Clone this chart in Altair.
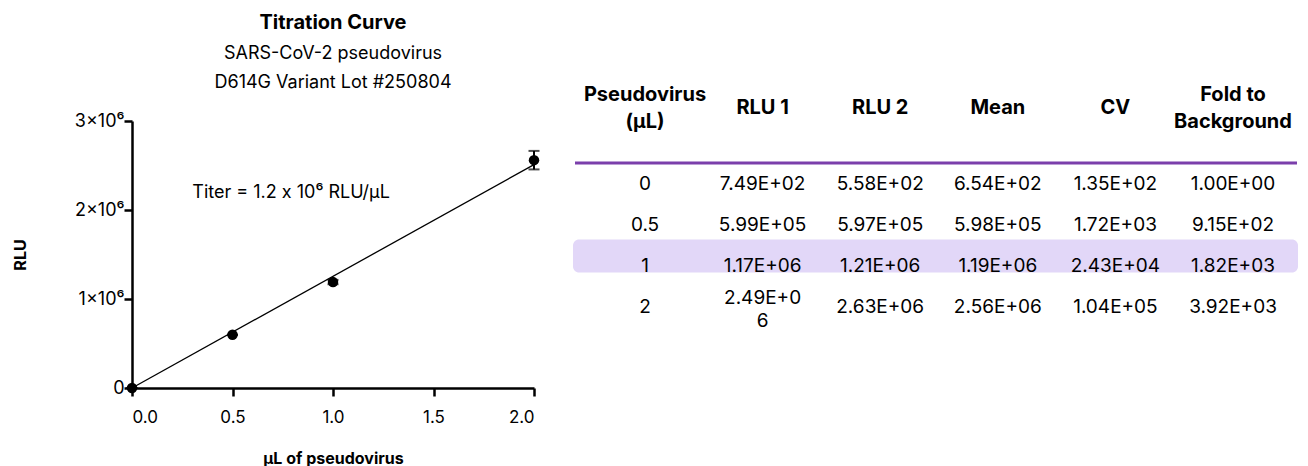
import altair as alt
import pandas as pd

FONT = "Inter"

# ---------------- data ----------------
dose_labels = ["0", "0.5", "1", "2"]
dose = [0, 0.5, 1, 2]
rlu1 = [7.49e2, 5.99e5, 1.17e6, 2.49e6]
rlu2 = [5.58e2, 5.97e5, 1.21e6, 2.63e6]
mean = [6.54e2, 5.98e5, 1.19e6, 2.56e6]
cv = [1.35e2, 1.72e3, 2.43e4, 1.04e5]
fold = [1.00e0, 9.15e2, 1.82e3, 3.92e3]
highlight_rows = ["1"]

fit_x = [0, 2]
fit_y = [0, 2.51e6]

titer_text = "Titer = 1.2 \u200bx\u200b 10\u2076 RLU/\u00b5L"
titer_x = [0.3]
titer_y = [2.19e6]

col_keys = ["dose", "rlu1", "rlu2", "mean", "cv", "fold"]
col_headers = ["Pseudovirus\n(\u00b5L)", "RLU 1", "RLU 2", "Mean", "CV", "Fold to\nBackground"]
wrap_cells = [("rlu1", "2")]

x_ticks = [0, 0.5, 1, 1.5, 2]
y_ticks = [0, 1e6, 2e6, 3e6]

# ---------------- tables ----------------
pts = pd.DataFrame({"dose": dose, "mean": mean})
err = pd.DataFrame({"dose": dose, "lo": [m - s for m, s in zip(mean, cv)],
                    "hi": [m + s for m, s in zip(mean, cv)]})
fit = pd.DataFrame({"dose": fit_x, "mean": fit_y})
titer = pd.DataFrame({"dose": titer_x, "mean": titer_y, "label": [titer_text]})

cols_vals = {"rlu1": rlu1, "rlu2": rlu2, "mean": mean, "cv": cv, "fold": fold}
cells = []
for i, r in enumerate(dose_labels):
    cells.append({"col": "dose", "row": r, "text": r, "multi": False})
    for k in col_keys[1:]:
        s = f"{cols_vals[k][i]:.2E}"
        multi = (k, r) in wrap_cells
        if multi:
            s = s[:-1] + "\n" + s[-1]
        cells.append({"col": k, "row": r, "text": s, "multi": multi})
cells = pd.DataFrame(cells)
hdr = pd.DataFrame({"col": col_keys, "text": col_headers,
                    "multi": ["\n" in h for h in col_headers]})
hl = pd.DataFrame({"row": highlight_rows})

# ---------------- plot ----------------
xs = alt.Scale(domain=[0, 2], nice=False)
ys = alt.Scale(domain=[0, 3e6], nice=False)
x_axis = alt.Axis(values=x_ticks, format=".1f", title="\u00b5L of pseudovirus",
                  labelPadding=13, titleY=70, titleBaseline="middle")
y_axis = alt.Axis(values=y_ticks, title="RLU",
                  labelExpr="datum.value == 0 ? '0' : format(datum.value/1e6, 'd') + '\u00d710\u2076'",
                  labelPadding=0, labelFontSize=18, titleX=-112, titleY=133.5,
                  titleBaseline="middle")

line = alt.Chart(fit).mark_line(color="black", strokeWidth=1.3).encode(
    x=alt.X("dose:Q", scale=xs, axis=x_axis), y=alt.Y("mean:Q", scale=ys, axis=y_axis))
rules = alt.Chart(err).mark_rule(color="black", strokeWidth=2).encode(
    x=alt.X("dose:Q", scale=xs), y=alt.Y("lo:Q", scale=ys), y2="hi:Q")
caps_lo = alt.Chart(err).mark_tick(color="black", orient="horizontal", size=11, thickness=2).encode(
    x=alt.X("dose:Q", scale=xs), y=alt.Y("lo:Q", scale=ys))
caps_hi = alt.Chart(err).mark_tick(color="black", orient="horizontal", size=11, thickness=2).encode(
    x=alt.X("dose:Q", scale=xs), y=alt.Y("hi:Q", scale=ys))
points = alt.Chart(pts).mark_circle(color="black", opacity=1, size=110).encode(
    x=alt.X("dose:Q", scale=xs), y=alt.Y("mean:Q", scale=ys))
note = alt.Chart(titer).mark_text(font=FONT, fontSize=18, align="left", baseline="middle",
                                  color="black").encode(
    x=alt.X("dose:Q", scale=xs), y=alt.Y("mean:Q", scale=ys), text="label:N")

plot = alt.layer(line, rules, caps_lo, caps_hi, points, note)

# ---------------- table ----------------
tx = alt.Scale(type="point", domain=col_keys, range=[513, 1101], padding=0)
ty = alt.Scale(type="point", domain=dose_labels, range=[63, 186], padding=0)

band = alt.Chart(hl).mark_bar(color="#E2D7F8", size=33, cornerRadius=6, yOffset=-10).encode(
    y=alt.Y("row:N", scale=ty, axis=None), x=alt.value(441), x2=alt.value(1166))
purple = alt.Chart(hl).mark_rule(color="#7B3FAB", strokeWidth=3).encode(
    x=alt.value(443), x2=alt.value(1165), y=alt.value(42))
head_kw = dict(font=FONT, fontSize=20, fontWeight="bold", lineBreak="\n",
               lineHeight=27, baseline="middle", color="black")
heads1 = alt.Chart(hdr).transform_filter("!datum.multi").mark_text(**head_kw).encode(
    x=alt.X("col:N", scale=tx, axis=None), y=alt.value(-13), text="text:N")
heads2 = alt.Chart(hdr).transform_filter("datum.multi").mark_text(**head_kw).encode(
    x=alt.X("col:N", scale=tx, axis=None), y=alt.value(-26), text="text:N")
body_kw = dict(font=FONT, fontSize=19, lineBreak="\n", lineHeight=23,
               baseline="middle", color="black")
body1 = alt.Chart(cells).transform_filter("!datum.multi").mark_text(**body_kw).encode(
    x=alt.X("col:N", scale=tx, axis=None), y=alt.Y("row:N", scale=ty, axis=None), text="text:N")
body2 = alt.Chart(cells).transform_filter("datum.multi").mark_text(yOffset=-9, **body_kw).encode(
    x=alt.X("col:N", scale=tx, axis=None), y=alt.Y("row:N", scale=ty, axis=None), text="text:N")

table = alt.layer(band, purple, heads1, heads2, body1, body2)

chart = alt.layer(plot, table).resolve_scale(x="independent", y="independent").properties(
    width=402, height=267,
    padding={"left": 124, "top": 113, "right": 766, "bottom": 82},
    autosize=alt.AutoSizeParams(type="none"),
    title=alt.TitleParams(
        text="Titration Curve",
        subtitle=["SARS-CoV-2 pseudovirus", "D614G Variant Lot #250804"],
        anchor="middle", frame="group", font=FONT, fontSize=20, fontWeight="bold",
        color="black", subtitleFont=FONT, subtitleFontSize=18, subtitleColor="black",
        subtitleLineHeight=29, subtitlePadding=12, offset=-7),
).configure_view(stroke=None).configure_axis(
    grid=False, domainColor="black", domainWidth=2.5, tickColor="black", tickWidth=2.5,
    tickSize=8, labelFont=FONT, labelFontSize=17, labelColor="black",
    titleFont=FONT, titleFontSize=16, titleFontWeight="bold", titleColor="black")

chart.save("out.html", embed_options={"renderer": "svg", "actions": False})
